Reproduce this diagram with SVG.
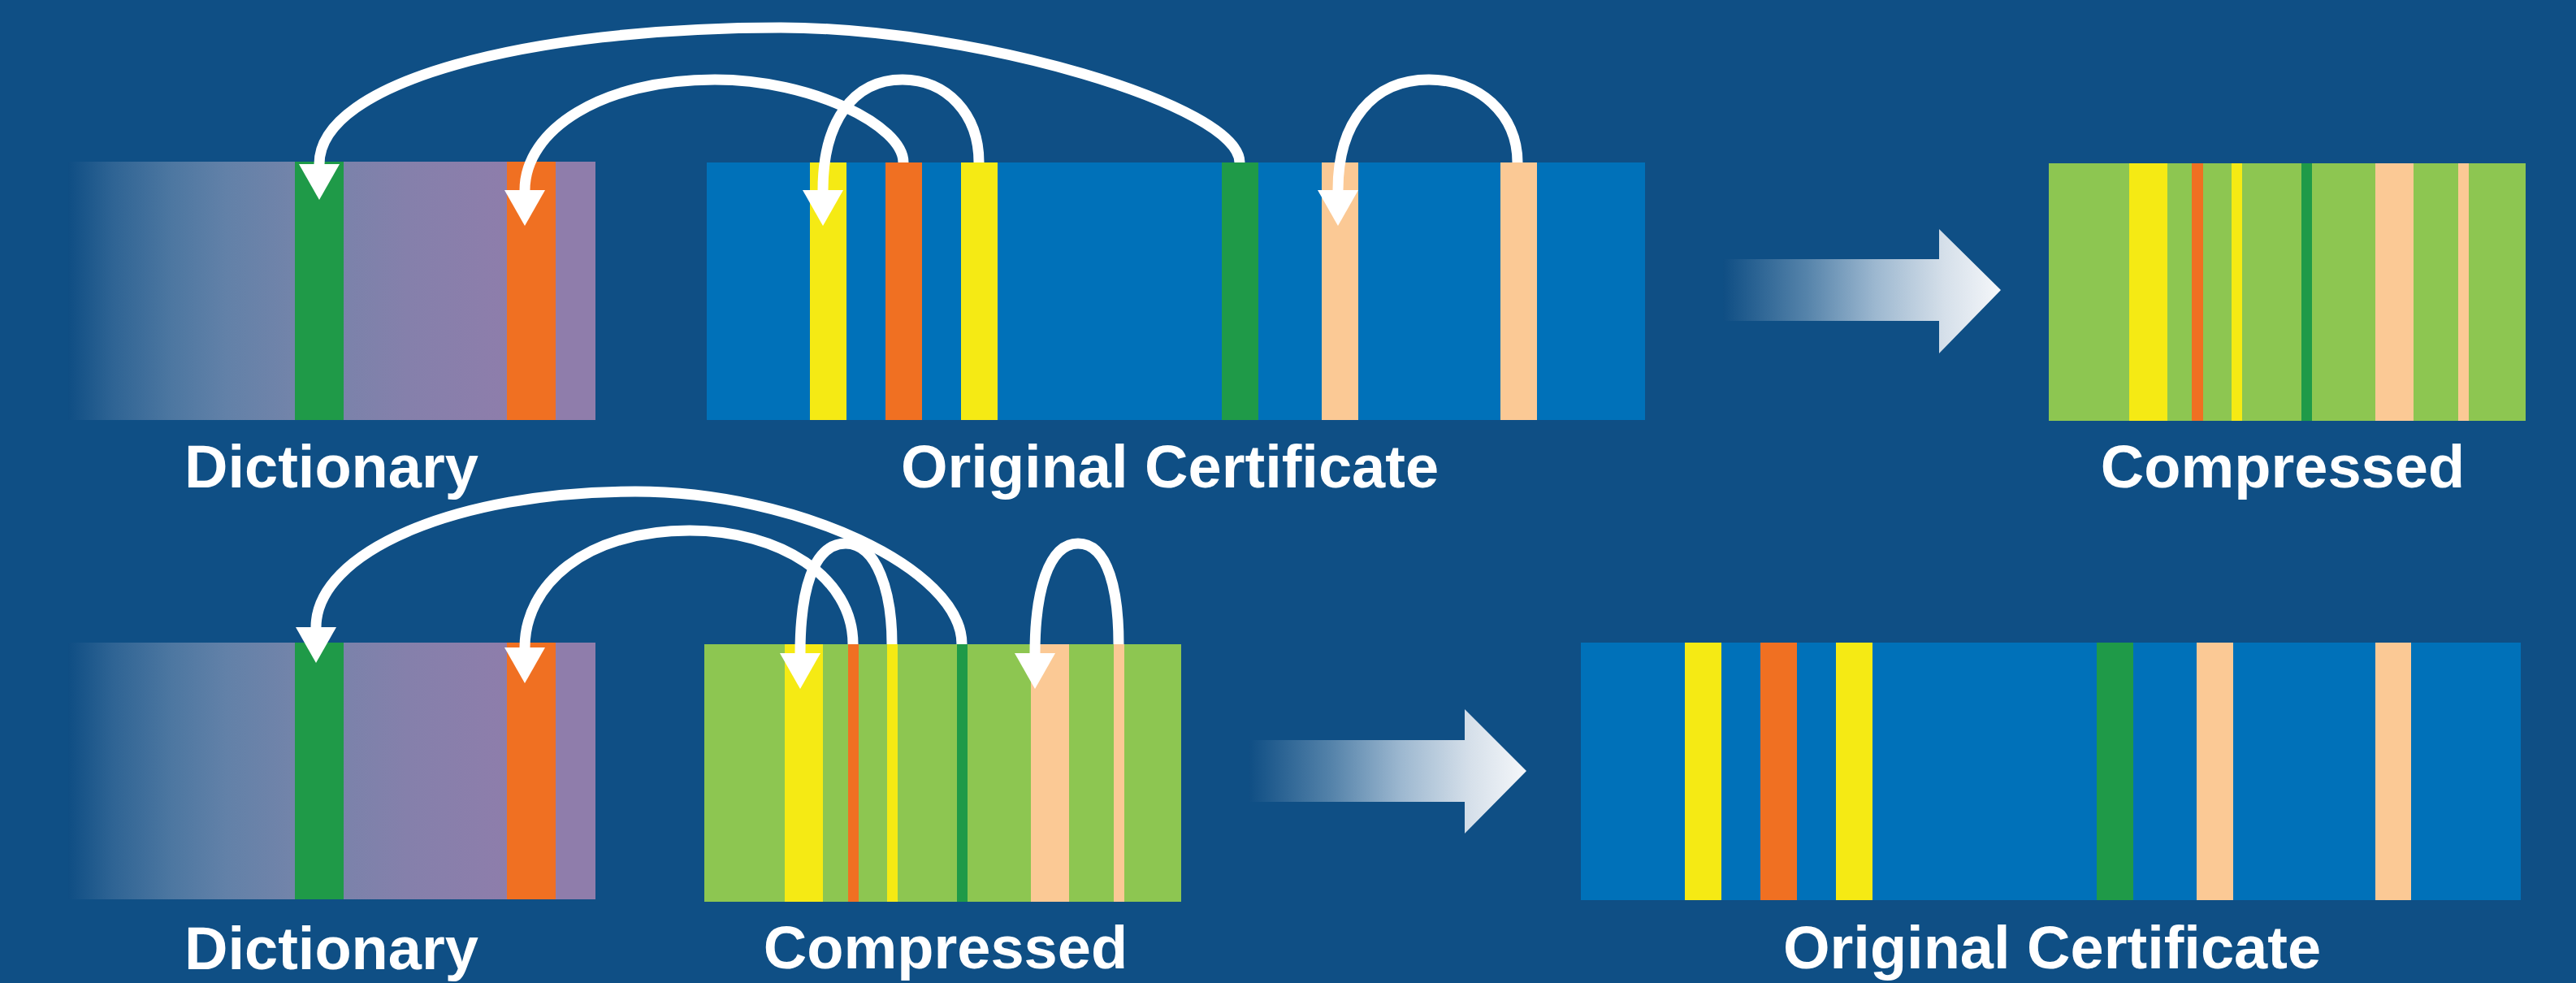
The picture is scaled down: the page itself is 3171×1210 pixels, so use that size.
<svg xmlns="http://www.w3.org/2000/svg" width="3171" height="1210" viewBox="0 0 3171 1210">
<style>
.bg{fill:#0f4f85}
.blue{fill:#0071b9}
.lg{fill:#8dc651}
.y{fill:#f5ea14}
.o{fill:#f07022}
.g{fill:#1f9a48}
.p{fill:#fbc995}
.lbl{font-family:"Liberation Sans",Arial,sans-serif;font-weight:bold;font-size:74px;fill:#ffffff;text-anchor:middle}
.arc{fill:none;stroke:#ffffff;stroke-width:13;marker-end:url(#ah)}
.big{fill:url(#arrowGrad)}
</style>
<defs>
<linearGradient id="dictGrad" gradientUnits="userSpaceOnUse" x1="84" y1="0" x2="640" y2="0">
<stop offset="0" stop-color="#0f4e84"/>
<stop offset="0.1" stop-color="#2f6494"/>
<stop offset="0.23" stop-color="#4d77a1"/>
<stop offset="0.35" stop-color="#6281a8"/>
<stop offset="0.5" stop-color="#7384aa"/>
<stop offset="0.75" stop-color="#8580ab"/>
<stop offset="1" stop-color="#8f7dab"/>
</linearGradient>
<linearGradient id="arrowGrad" x1="0" y1="0" x2="1" y2="0">
<stop offset="0" stop-color="#0f4e84"/>
<stop offset="0.3" stop-color="#5583aa"/>
<stop offset="0.55" stop-color="#9db8d0"/>
<stop offset="0.8" stop-color="#d6e0ea"/>
<stop offset="1" stop-color="#f5f7fa"/>
</linearGradient>
<marker id="ah" markerUnits="userSpaceOnUse" viewBox="0 -26 45 52" refX="0" refY="0" markerWidth="45" markerHeight="52" orient="auto">
<path d="M0,-25 L44,0 L0,25 Z" fill="#ffffff"/>
</marker>
</defs>
<rect class="bg" x="0" y="0" width="3171" height="1210"/>

<g id="dictionary-top">
<rect x="84" y="199" width="649" height="318" fill="url(#dictGrad)"/>
<rect class="g" x="363" y="199" width="60" height="318"/>
<rect class="o" x="624" y="199" width="60" height="318"/>
<text class="lbl" x="408" y="600">Dictionary</text>
</g>

<g id="original-top">
<rect class="blue" x="870" y="200" width="1155" height="317"/>
<rect class="y" x="997" y="200" width="45" height="317"/>
<rect class="o" x="1090" y="200" width="45" height="317"/>
<rect class="y" x="1183" y="200" width="45" height="317"/>
<rect class="g" x="1504" y="200" width="45" height="317"/>
<rect class="p" x="1627" y="200" width="45" height="317"/>
<rect class="p" x="1847" y="200" width="45" height="317"/>
<text class="lbl" x="1440" y="600">Original Certificate</text>
</g>

<g id="arrow-top">
<polygon class="big" points="2121,319 2387,319 2387,282 2463,357 2387,435 2387,395 2121,395"/>
</g>

<g id="compressed-top">
<rect class="lg" x="2522" y="201" width="587" height="317"/>
<rect class="y" x="2621" y="201" width="47" height="317"/>
<rect class="o" x="2698" y="201" width="14" height="317"/>
<rect class="y" x="2747" y="201" width="13" height="317"/>
<rect class="g" x="2833" y="201" width="13" height="317"/>
<rect class="p" x="2924" y="201" width="47" height="317"/>
<rect class="p" x="3026" y="201" width="13" height="317"/>
<text class="lbl" x="2810" y="600">Compressed</text>
</g>

<g id="dictionary-bottom">
<rect x="84" y="791" width="649" height="316" fill="url(#dictGrad)"/>
<rect class="g" x="363" y="791" width="60" height="316"/>
<rect class="o" x="624" y="791" width="60" height="316"/>
<text class="lbl" x="408" y="1193">Dictionary</text>
</g>

<g id="compressed-bottom">
<rect class="lg" x="867" y="793" width="587" height="317"/>
<rect class="y" x="966" y="793" width="47" height="317"/>
<rect class="o" x="1044" y="793" width="13" height="317"/>
<rect class="y" x="1092" y="793" width="13" height="317"/>
<rect class="g" x="1178" y="793" width="13" height="317"/>
<rect class="p" x="1269" y="793" width="47" height="317"/>
<rect class="p" x="1371" y="793" width="13" height="317"/>
<text class="lbl" x="1164" y="1192">Compressed</text>
</g>

<g id="arrow-bottom">
<polygon class="big" points="1537,911 1803,911 1803,873 1879,949 1803,1026 1803,987 1537,987"/>
</g>

<g id="original-bottom">
<rect class="blue" x="1946" y="791" width="1157" height="317"/>
<rect class="y" x="2074" y="791" width="45" height="317"/>
<rect class="o" x="2167" y="791" width="45" height="317"/>
<rect class="y" x="2260" y="791" width="45" height="317"/>
<rect class="g" x="2581" y="791" width="45" height="317"/>
<rect class="p" x="2704" y="791" width="45" height="317"/>
<rect class="p" x="2924" y="791" width="44" height="317"/>
<text class="lbl" x="2526" y="1192">Original Certificate</text>
</g>

<g id="connectors">
<path class="arc" d="M1526,200 C1526,130 1200,34 961,34 C650,34 393,100 393,202"/>
<path class="arc" d="M1112,200 C1112,155 1000,98 880,98 C740,98 646,160 646,234"/>
<path class="arc" d="M1205,200 C1205,140 1165,98 1111,98 C1050,98 1013,150 1013,234"/>
<path class="arc" d="M1868,200 C1868,140 1820,98 1759,98 C1690,98 1647,150 1647,234"/>
<path class="arc" d="M1184,793 C1184,700 980,605 782,605 C560,605 389,680 389,772"/>
<path class="arc" d="M1050,793 C1050,710 960,653 849,653 C720,653 646,720 646,797"/>
<path class="arc" d="M1098,793 C1098,730 1080,669 1041,669 C1000,669 985,730 985,804"/>
<path class="arc" d="M1377,793 C1377,730 1365,669 1327,669 C1290,669 1274,730 1274,804"/>
</g>
</svg>
